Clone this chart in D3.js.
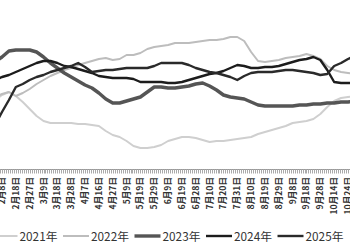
<!DOCTYPE html>
<html>
<head>
<meta charset="utf-8">
<script src="https://cdn.jsdelivr.net/npm/d3@7"></script>
<style>
html,body{margin:0;padding:0;background:#fff;}
svg{display:block;}
</style>
</head>
<body>
<svg id="chart" width="350" height="250"></svg>
<script>
// Tick labels (every 7 trading days)
const tickLabels = ["2月8日","2月18日","2月27日","3月9日","3月18日","3月28日","4月7日","4月16日","4月27日","5月9日","5月19日","5月29日","6月9日","6月19日","6月28日","7月10日","7月20日","7月31日","8月10日","8月19日","8月29日","9月8日","9月18日","9月28日","10月14日","10月24日"];
const daysPerLabel = 7;
// Sample positions (trading-day index), every half label
const sampleDays = d3.range(-3.5, 25.6 * 7, 3.5).slice(0, 53);

const seriesNames = ["2021年","2022年","2023年","2024年","2025年"];
const s2021 = [700,750,780,740,680,610,540,490,470,470,470,470,460,460,450,440,390,350,330,290,240,220,220,230,250,290,310,330,330,320,300,280,290,290,300,310,320,330,360,380,400,420,440,470,480,490,510,560,630,690,720,730,740];
const s2022 = [730,760,780,740,770,810,860,900,940,970,1000,1020,1050,1070,1090,1110,1120,1100,1110,1150,1150,1170,1210,1230,1240,1250,1270,1270,1270,1280,1290,1300,1300,1310,1330,1330,1290,1180,1090,1080,1090,1100,1120,1130,1140,1160,1140,1110,1040,1000,980,970,960];
const s2023 = [1080,1130,1190,1200,1200,1200,1180,1130,1070,1020,970,930,890,850,820,770,710,670,670,690,710,730,780,830,830,820,820,830,840,860,870,840,800,750,730,720,710,680,650,640,640,640,640,640,650,650,660,660,670,670,680,680,690];
const s2024 = [900,930,950,980,1010,1040,1070,1090,1090,1070,1040,1030,1010,990,970,940,930,920,920,920,910,880,880,880,880,870,870,880,900,920,940,960,970,990,1020,1050,1040,1020,1020,1030,1030,1040,1060,1080,1100,1110,1130,1100,1000,880,870,870,870];
const s2025 = [450,580,700,830,860,900,930,950,980,1000,1020,1040,1070,1030,980,990,1000,1000,1010,1020,1020,1020,1020,1040,1070,1070,1070,1070,1050,1020,1000,980,970,950,930,900,940,970,980,980,980,990,1000,1000,990,980,970,950,960,1040,1070,1110,1140];

const seriesValues = [s2021, s2022, s2023, s2024, s2025];
const seriesColors = ["#cfcfcf","#bdbdbd","#555555","#1c1c1c","#2a2a2a"];
const seriesWidths = [2, 2, 3.4, 2.4, 2.4];

const svg = d3.select("#chart");
const W = 350, H = 250;
svg.append("rect").attr("width", W).attr("height", H).attr("fill", "#fff");

const lastDay = (tickLabels.length - 1) * daysPerLabel;
const x = d3.scaleLinear().domain([0, lastDay]).range([2, 348]);
const y = d3.scaleLinear().domain([0, 1700]).range([170, 0]);

// Lines
const line = d3.line()
  .x((d, i) => x(sampleDays[i]))
  .y(d => y(d))
  .curve(d3.curveLinear);

seriesValues.forEach((vals, si) => {
  svg.append("path")
    .datum(vals)
    .attr("d", line)
    .attr("fill", "none")
    .attr("stroke", seriesColors[si])
    .attr("stroke-width", seriesWidths[si])
    .attr("stroke-linejoin", "round")
    .attr("stroke-linecap", "round");
});

// X axis with daily minor ticks
const axisY = 169.5;
const dayTicks = d3.range(-1, lastDay + 2);
const axisG = svg.append("g").attr("transform", `translate(0,${axisY})`);
axisG.append("line").attr("x1", 0).attr("x2", W).attr("y1", 0).attr("y2", 0)
  .attr("stroke", "#999").attr("stroke-width", 1);
axisG.selectAll("line.tick").data(dayTicks).join("line")
  .attr("class", "tick")
  .attr("x1", d => Math.round(x(d)) + 0.5).attr("x2", d => Math.round(x(d)) + 0.5)
  .attr("y1", 0).attr("y2", 4)
  .attr("stroke", "#aaa").attr("stroke-width", 1);

// Rotated labels
axisG.selectAll("text.lbl").data(tickLabels).join("text")
  .attr("class", "lbl")
  .attr("transform", (d, i) => `translate(${x(i * daysPerLabel) + 3},7.5) rotate(-90)`)
  .attr("text-anchor", "end")
  .attr("font-family", "'Noto Sans CJK SC', 'Noto Sans', sans-serif")
  .attr("font-size", 8.6)
  .attr("font-weight", "bold")
  .attr("fill", "#333")
  .text(d => d);

// Legend
const legend = svg.append("g").attr("transform", "translate(0,236)");
seriesNames.forEach((name, i) => {
  const x0 = -8.5 + i * 71.5;
  legend.append("line")
    .attr("x1", x0).attr("x2", x0 + 26).attr("y1", 0).attr("y2", 0)
    .attr("stroke", seriesColors[i]).attr("stroke-width", seriesWidths[i]);
  legend.append("text")
    .attr("x", x0 + 28).attr("y", 4.5)
    .attr("font-family", "'Noto Sans CJK SC', 'Noto Sans', sans-serif")
    .attr("font-size", 11.8)
    .attr("fill", "#333")
    .text(name);
});
</script>
</body>
</html>
